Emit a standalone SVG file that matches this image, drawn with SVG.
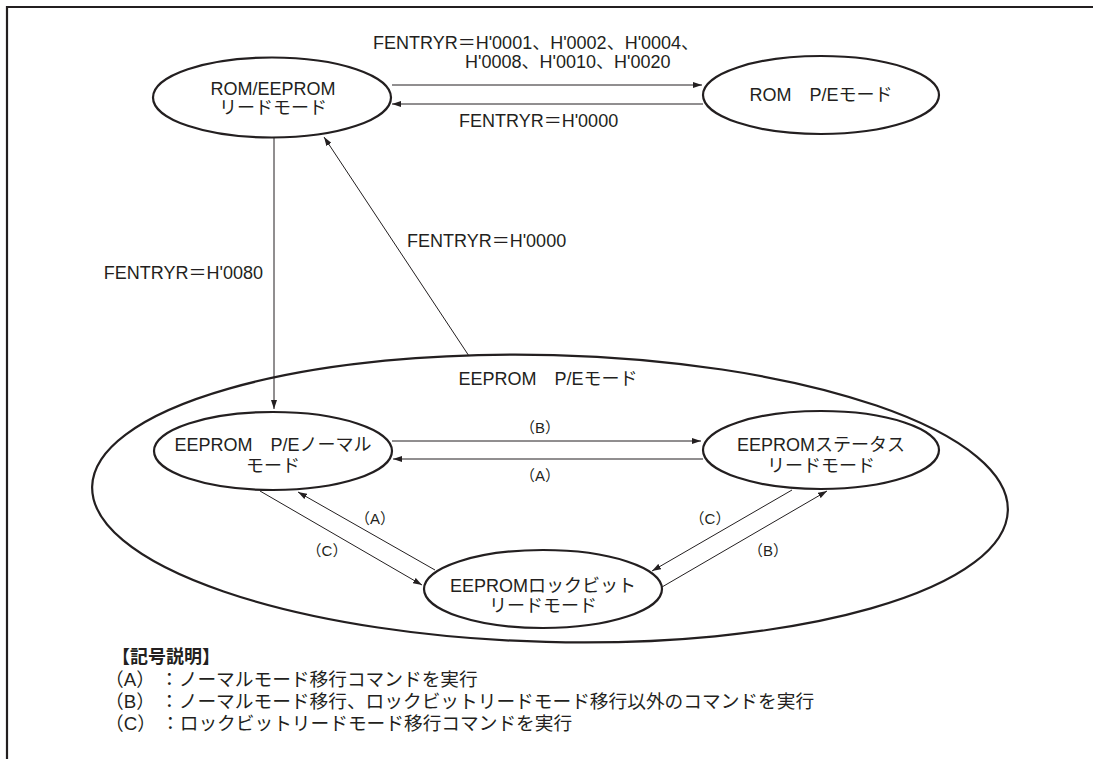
<svg xmlns="http://www.w3.org/2000/svg" width="1093" height="759" viewBox="0 0 1093 759">
<defs>
<style>
text{font-family:"Liberation Sans","Noto Sans CJK JP",sans-serif;fill:#231f20;font-size:18px}
.c{text-anchor:middle}
.s{font-size:15px}
.lg{font-size:18.7px}
.node{fill:#fff;stroke:#231f20;stroke-width:2.2}
.big{fill:none;stroke:#231f20;stroke-width:2.2}
.edge{fill:none;stroke:#231f20;stroke-width:1}
.frame{fill:none;stroke:#231f20;stroke-width:2.2}
.b{font-weight:bold}
</style>
<marker id="ah" markerWidth="10" markerHeight="6" refX="9" refY="3" orient="auto" markerUnits="userSpaceOnUse">
<path d="M0,0 L9,3 L0,6 z" fill="#231f20"/>
</marker>
</defs>
<rect width="1093" height="759" fill="#fff"/>
<path class="frame" d="M7,759 V7 H1093"/>

<g id="eeprom-pe-mode">
<ellipse class="big" cx="550" cy="498.5" rx="458" ry="143.5" transform="rotate(1.5 550 498.5)"/>
<text class="c" x="548" y="385">EEPROM　P/Eモード</text>
</g>

<g id="connectors">
<path class="edge" d="M392,85 H702" marker-end="url(#ah)"/>
<path class="edge" d="M703,104 H392" marker-end="url(#ah)"/>
<path class="edge" d="M274,137 V409" marker-end="url(#ah)"/>
<path class="edge" d="M469,356 L324,137" marker-end="url(#ah)"/>
<path class="edge" d="M392,441 H701" marker-end="url(#ah)"/>
<path class="edge" d="M703,459 H393" marker-end="url(#ah)"/>
<path class="edge" d="M260,491 L422,585" marker-end="url(#ah)"/>
<path class="edge" d="M435,570 L298,492" marker-end="url(#ah)"/>
<path class="edge" d="M792,490 L652,571" marker-end="url(#ah)"/>
<path class="edge" d="M662,587 L827,491" marker-end="url(#ah)"/>
<text x="373" y="49">FENTRYR＝H'0001、H'0002、H'0004、</text>
<text x="465" y="68">H'0008、H'0010、H'0020</text>
<text x="459" y="127">FENTRYR＝H'0000</text>
<text x="263" y="279" text-anchor="end">FENTRYR＝H'0080</text>
<text x="407" y="247">FENTRYR＝H'0000</text>
<text class="c s" x="540" y="433">（B）</text>
<text class="c s" x="540" y="481">（A）</text>
<text class="c s" x="375" y="524">（A）</text>
<text class="c s" x="327" y="556">（C）</text>
<text class="c s" x="710" y="524">（C）</text>
<text class="c s" x="768" y="556">（B）</text>
</g>

<g id="rom-eeprom-read">
<ellipse class="node" cx="272" cy="97.5" rx="119" ry="40"/>
<text class="c" x="273" y="95">ROM/EEPROM</text>
<text class="c" x="273" y="114">リードモード</text>
</g>

<g id="rom-pe">
<ellipse class="node" cx="821" cy="95" rx="118" ry="39"/>
<text class="c" x="821" y="101">ROM　P/Eモード</text>
</g>

<g id="eeprom-pe-normal">
<ellipse class="node" cx="273" cy="451" rx="119" ry="39"/>
<text class="c" x="273" y="451">EEPROM　P/Eノーマル</text>
<text class="c" x="273" y="472">モード</text>
</g>

<g id="eeprom-status-read">
<ellipse class="node" cx="821" cy="450" rx="118" ry="39"/>
<text class="c" x="821" y="451">EEPROMステータス</text>
<text class="c" x="821" y="472">リードモード</text>
</g>

<g id="eeprom-lockbit-read">
<ellipse class="node" cx="543" cy="589" rx="119" ry="39"/>
<text class="c" x="543" y="592">EEPROMロックビット</text>
<text class="c" x="543" y="612">リードモード</text>
</g>

<g id="legend">
<text class="b" x="112" y="663">【記号説明】</text>
<text class="lg" x="105" y="686">（A） ：ノーマルモード移行コマンドを実行</text>
<text class="lg" x="105" y="708">（B） ：ノーマルモード移行、ロックビットリードモード移行以外のコマンドを実行</text>
<text class="lg" x="105" y="730">（C） ：ロックビットリードモード移行コマンドを実行</text>
</g>
</svg>
